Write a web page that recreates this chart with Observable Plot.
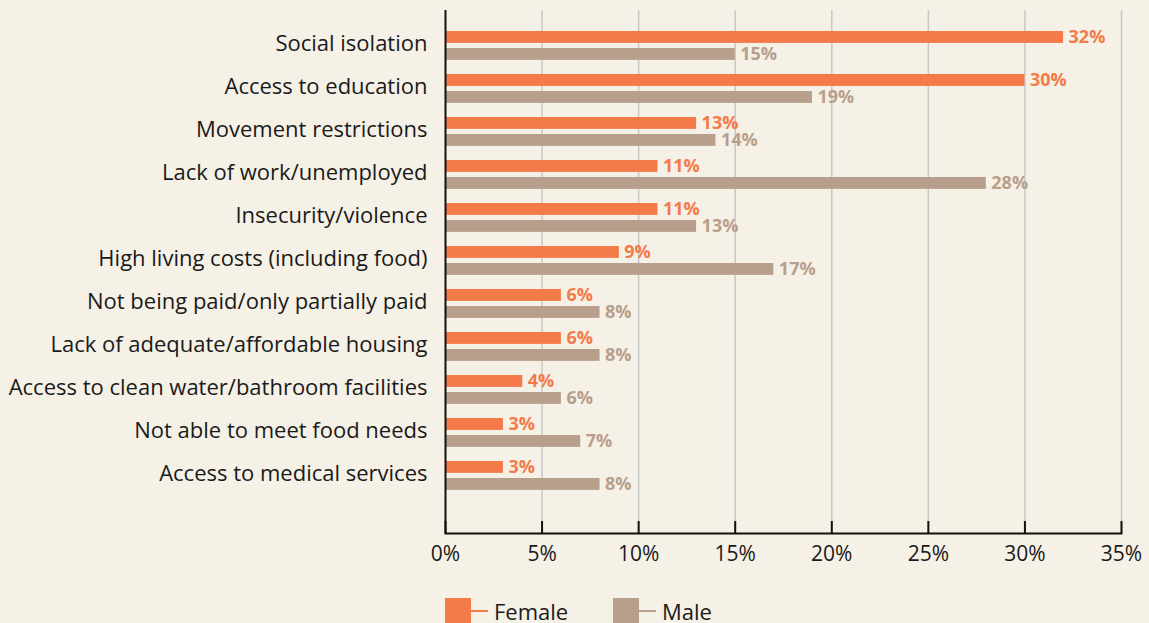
<!DOCTYPE html>
<html><head><meta charset="utf-8">
<script src="https://cdn.jsdelivr.net/npm/d3@7"></script>
<script src="https://cdn.jsdelivr.net/npm/@observablehq/plot@0.6"></script>
<style>
html,body{margin:0;padding:0;background:#F6F1E6;font-family:"Open Sans",sans-serif;overflow:hidden;}
#chart svg{display:block;}
#legend{position:relative;height:43px;}
.item{position:absolute;top:18px;display:flex;align-items:center;}
.sw{width:26px;height:26px;}
.ln{width:17px;height:2px;}
.lb{margin-left:6px;font-size:22px;color:#1a1a1a;line-height:26px;}
</style></head><body>
<div id="chart"></div>
<div id="legend"></div>
<script>
const categories = [
  "Social isolation",
  "Access to education",
  "Movement restrictions",
  "Lack of work/unemployed",
  "Insecurity/violence",
  "High living costs (including food)",
  "Not being paid/only partially paid",
  "Lack of adequate/affordable housing",
  "Access to clean water/bathroom facilities",
  "Not able to meet food needs",
  "Access to medical services"
];
const female = [32, 30, 13, 11, 11, 9, 6, 6, 4, 3, 3];
const male = [15, 19, 14, 28, 13, 17, 8, 8, 6, 7, 8];
const xTicks = [0, 5, 10, 15, 20, 25, 30, 35];
const seriesNames = ["Female", "Male"];
const colors = ["#F47A4A", "#B89F8B"];

const rows = categories.map((c, i) => ({category: c, female: female[i], male: male[i]}));
const H = 580, MT = 10, MB = 47;

const chart = Plot.plot({
  width: 1149, height: H,
  marginLeft: 445, marginRight: 28, marginTop: MT, marginBottom: MB,
  style: {background: "transparent", fontFamily: "Open Sans, sans-serif", color: "#1a1a1a", overflow: "visible"},
  x: {domain: [0, 35]},
  y: {domain: categories, range: [23, 497], padding: 0},
  marks: [
    Plot.ruleX(xTicks.slice(1), {stroke: "#c8c8c8", strokeWidth: 1.5}),
    Plot.barX(rows, {x: "female", y: "category", fill: colors[0], insetTop: 7, insetBottom: 24.1}),
    Plot.barX(rows, {x: "male", y: "category", fill: colors[1], insetTop: 24, insetBottom: 7.1}),
    Plot.text(rows, {x: "female", y: "category", text: d => d.female + "%", dx: 5, dy: -8.5, textAnchor: "start", fill: colors[0], fontWeight: 700, fontSize: 18}),
    Plot.text(rows, {x: "male", y: "category", text: d => d.male + "%", dx: 5, dy: 8.5, textAnchor: "start", fill: colors[1], fontWeight: 700, fontSize: 18}),
    Plot.tickX(xTicks, {x: d => d, insetTop: (H - MT - MB) - 12, stroke: "#111", strokeWidth: 2}),
    Plot.ruleX([0], {stroke: "#111", strokeWidth: 2}),
    Plot.frame({anchor: "bottom", stroke: "#111", strokeWidth: 2}),
    Plot.axisX({ticks: xTicks, tickSize: 0, tickPadding: 13, tickFormat: d => d + "%", fontSize: 21, label: null}),
    Plot.axisY({tickSize: 0, tickPadding: 18, fontSize: 22, dy: -2, label: null})
  ]
});
document.getElementById("chart").appendChild(chart);

const legend = document.getElementById("legend");
const lefts = [445, 613];
seriesNames.forEach((n, i) => {
  const it = document.createElement("div");
  it.className = "item";
  it.style.left = lefts[i] + "px";
  it.innerHTML = `<div class="sw" style="background:${colors[i]}"></div><div class="ln" style="background:${colors[i]}"></div><div class="lb">${n}</div>`;
  legend.appendChild(it);
});
</script>
</body></html>
